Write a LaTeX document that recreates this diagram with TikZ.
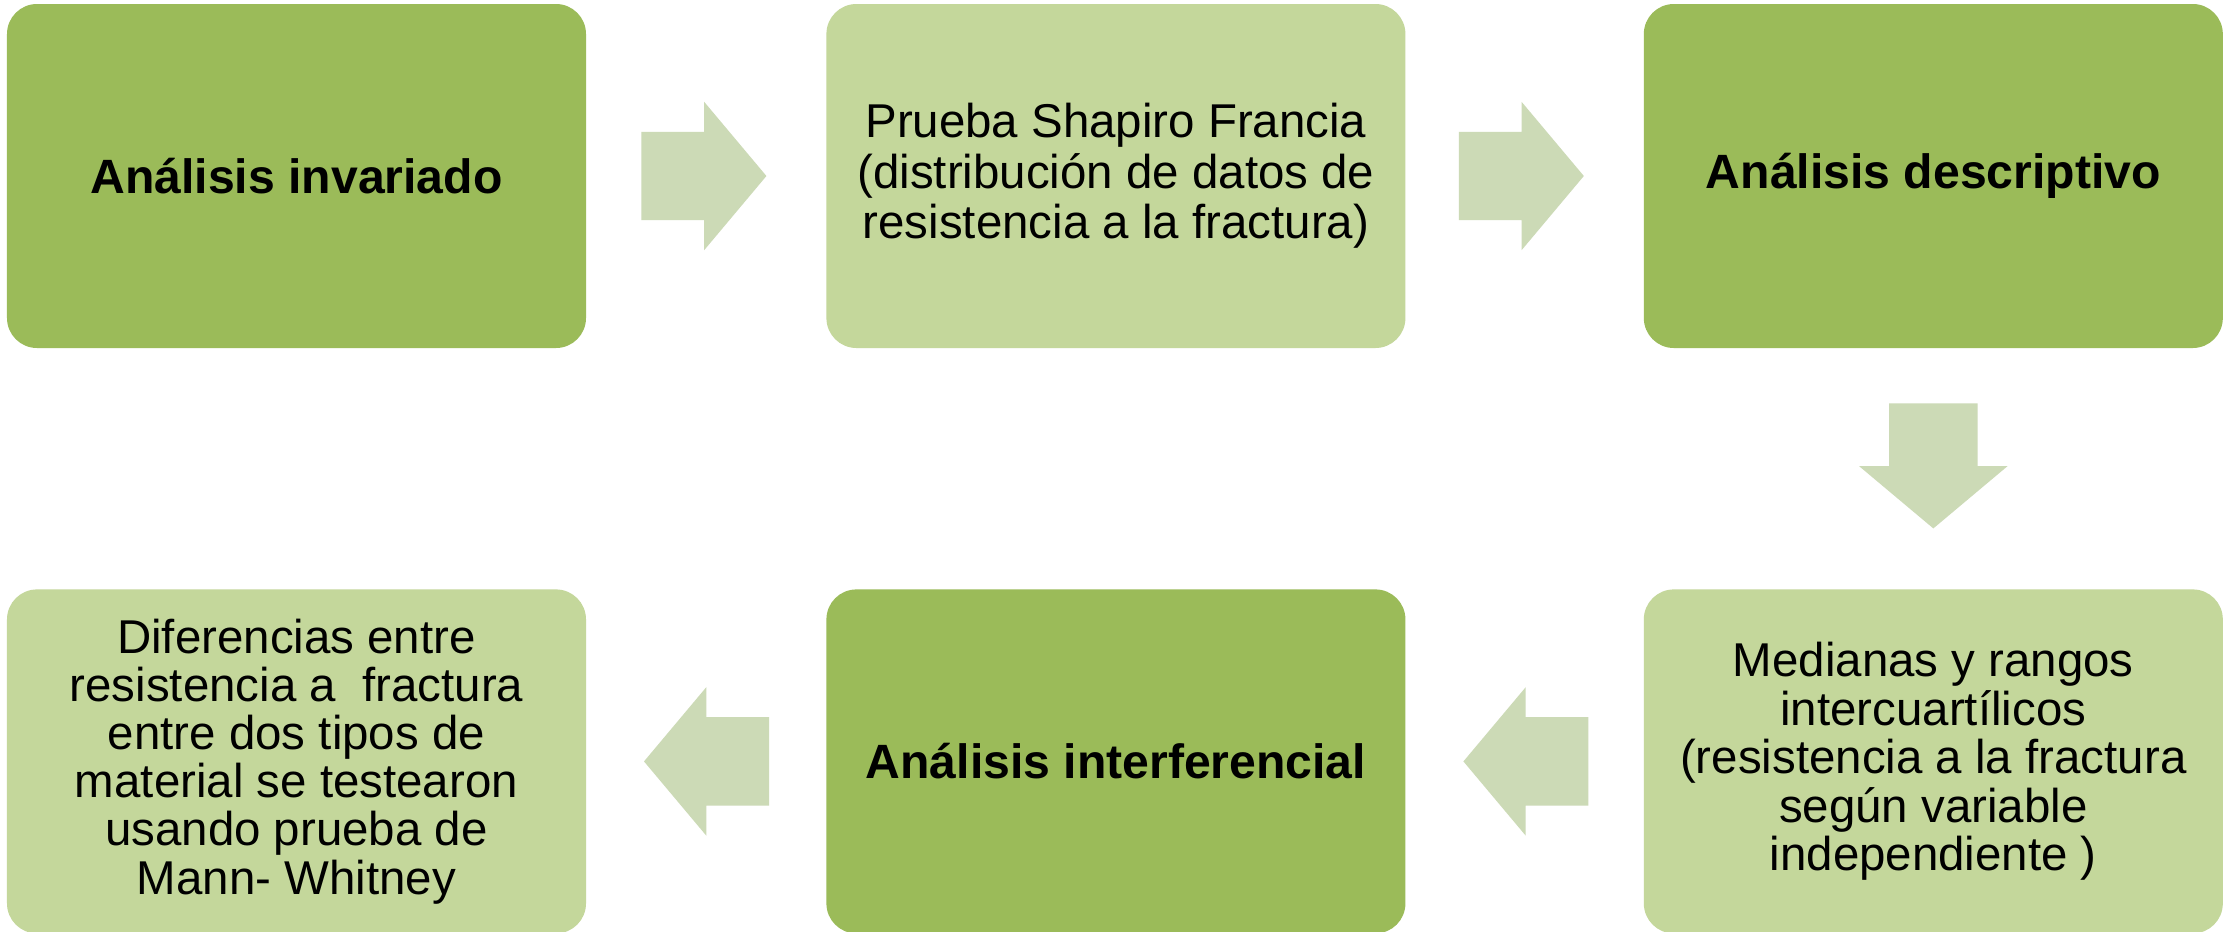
\documentclass[tikz,border=0pt]{standalone}
\usepackage{fontspec}
\setmainfont{Liberation Sans}
\usepackage{tikz}
\usetikzlibrary{shapes,arrows,positioning,calc}

\definecolor{darkolive}{HTML}{9BBB59}
\definecolor{lightolive}{HTML}{C4D79B}
\definecolor{arrowolive}{HTML}{CCDAB6}

\begin{document}
\begin{tikzpicture}[
    box/.style={rectangle, rounded corners=0.3cm, minimum width=5.79cm, minimum height=3.44cm, inner sep=0, align=center, font=\fontsize{13.5}{14.4}\selectfont},
    darkbox/.style={box, fill=darkolive, font=\fontsize{13.7}{14.4}\selectfont\bfseries},
    lightbox/.style={box, fill=lightolive},
    blockarrow/.style={single arrow, fill=arrowolive, minimum height=1.25cm, inner xsep=0, inner ysep=0.435cm, single arrow head extend=0.3cm, single arrow tip angle=100}
]
    \clip (0,0) rectangle (22.29,9.31);
    \fill [white] (0,0) rectangle (22.29,9.31);

    % Top row
    \node [darkbox] (invariado) at (2.965,7.55) {Análisis invariado};
    \node [lightbox, right=2.39cm of invariado] (shapiro) {Prueba Shapiro Francia\\(distribución de datos de\\resistencia a la fractura)};
    \node [darkbox, right=2.37cm of shapiro] (descriptivo) {Análisis descriptivo};

    % Bottom row
    \node [lightbox, below=2.40cm of descriptivo, font=\fontsize{13.5}{13.8}\selectfont] (medianas) {Medianas y rangos\\intercuartílicos\\(resistencia a la fractura\\según variable\\independiente )};
    \node [darkbox, left=2.37cm of medianas] (interferencial) {Análisis interferencial};
    \node [lightbox, left=2.39cm of interferencial, font=\fontsize{13.5}{13.7}\selectfont] (diferencias) {Diferencias entre\\resistencia a~~fractura\\entre dos tipos de\\material se testearon\\usando prueba de\\Mann- Whitney};

    % Arrows
    \node [blockarrow, right=0.54cm of invariado, anchor=tail] (a1) {};
    \node [blockarrow, right=0.52cm of shapiro, anchor=tail] (a2) {};
    \node [blockarrow, rotate=-90, below=0.54cm of descriptivo, anchor=tail] (a3) {};
    \node [blockarrow, rotate=180, left=0.54cm of medianas, anchor=tail] (a4) {};
    \node [blockarrow, rotate=180, left=0.56cm of interferencial, anchor=tail] (a5) {};
\end{tikzpicture}
\end{document}
